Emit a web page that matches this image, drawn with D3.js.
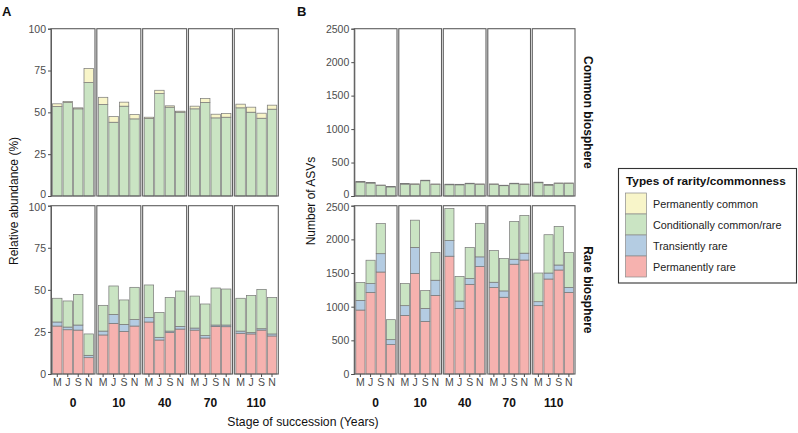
<!DOCTYPE html>
<html><head><meta charset="utf-8">
<script src="https://cdn.jsdelivr.net/npm/d3@7"></script>
<style>
body{margin:0;background:#fff}
text{font-family:"Liberation Sans",Arial,Helvetica,sans-serif}
</style>
</head><body>
<svg id="c" width="798" height="433"></svg>
<script>
const stages = ["0","10","40","70","110"];
const months = ["M","J","S","N"];
const types = ["Permanently common","Conditionally common/rare","Transiently rare","Permanently rare"];
const typeColors = ["#F8F5C9","#CAE4C3","#B4CCE2","#F6B2AF"];
const relTicks = [0,25,50,75,100];
const asvTicks = [0,500,1000,1500,2000,2500];

// All series in stage-major order: 0:M,J,S,N | 10:M,J,S,N | 40 | 70 | 110
// A: relative abundance (%) — common biosphere
const relCommon_permCommon = [1.6,0.7,0.6,8.5, 4.3,3.4,2.4,2.6, 0.8,2.0,0.8,0.6, 1.6,2.4,2.2,2.2, 2.2,3.0,3.0,2.4];
const relCommon_condCommon = [53.5,55.8,52.1,67.8, 54.7,44.1,53.7,46.1, 46.3,61.2,53.1,50.1, 52.1,55.9,46.7,47.1, 52.7,50.1,46.5,51.9];
// A: relative abundance (%) — rare biosphere
const relRare_condCommon = [14.1,15.5,18.2,12.7, 15.3,16.9,14.5,19.2, 19.4,14.8,20.0,21.0, 19.0,18.8,22.0,21.4, 19.5,22.1,23.4,21.7];
const relRare_transient  = [2.4,1.6,3.0,1.4, 2.3,5.3,4.2,3.8, 2.6,1.6,0.9,1.6, 1.2,1.4,0.8,1.0, 1.3,0.8,0.8,1.2];
const relRare_permRare   = [28.5,26.3,26.1,9.7, 23.2,30.1,25.3,28.5, 30.9,20.2,24.6,26.7, 26.1,21.4,28.3,28.1, 24.2,23.8,26.1,22.6];
// B: number of ASVs — common biosphere
const asvCommon_permCommon = [8,7,6,8, 9,10,8,9, 9,8,8,9, 8,7,8,8, 9,8,8,8];
const asvCommon_condCommon = [208,193,158,136, 178,172,228,171, 168,167,183,172, 173,154,183,172, 198,162,187,187];
// B: number of ASVs — rare biosphere
const asvRare_condCommon = [267,347,448,297, 329,404,265,414, 476,366,463,498, 471,481,562,561, 426,569,574,520];
const asvRare_transient  = [144,130,272,74, 144,386,193,225, 232,109,86,143, 78,94,74,102, 59,89,74,74];
const asvRare_permRare   = [950,1213,1515,436, 871,1495,782,1168, 1750,975,1332,1597, 1285,1140,1631,1693, 1015,1411,1545,1213];

function rows(pc, cc, tr, pr){
  return pc.map((_, i) => ({
    stage: stages[Math.floor(i/4)], month: months[i%4],
    [types[0]]: pc[i], [types[1]]: cc[i], [types[2]]: tr[i], [types[3]]: pr[i]
  }));
}
const zeros = stages.flatMap(() => months.map(() => 0));
const relCommonData = rows(relCommon_permCommon, relCommon_condCommon, zeros, zeros);
const relRareData = rows(zeros, relRare_condCommon, relRare_transient, relRare_permRare);
const asvCommonData = rows(asvCommon_permCommon, asvCommon_condCommon, zeros, zeros);
const asvRareData = rows(zeros, asvRare_condCommon, asvRare_transient, asvRare_permRare);

const color = d3.scaleOrdinal().domain(types).range(typeColors);
const stackKeys = [types[3], types[2], types[1], types[0]];
const svg = d3.select("#c");

const rowY = [{y0:28.7, y1:196}, {y0:205.7, y1:374}];
const FONT = '"Liberation Sans",Arial,sans-serif';
const TICK_COL = "#4d4d4d";

function panel(cfg){
  const fx = d3.scaleBand().domain(stages).range([cfg.x0, cfg.x1]).paddingInner(0.04).paddingOuter(0);
  const mx = d3.scaleBand().domain(months).range([0, fx.bandwidth()]).paddingInner(0.1).paddingOuter(0.15);
  cfg.data.forEach((data, r) => {
    const ry = rowY[r];
    const y = d3.scaleLinear().domain([0, cfg.max]).range([ry.y1, ry.y0]);
    const stacked = d3.stack().keys(stackKeys)(data);
    stages.forEach(s => {
      const g = svg.append("g").attr("transform", `translate(${fx(s)},0)`);
      stacked.forEach(layer => {
        g.selectAll(null)
          .data(layer.filter(d => d.data.stage === s && d[1] - d[0] > 0))
          .join("rect")
          .attr("x", d => mx(d.data.month))
          .attr("width", mx.bandwidth())
          .attr("y", d => y(d[1]))
          .attr("height", d => y(d[0]) - y(d[1]))
          .attr("fill", color(layer.key))
          .attr("stroke", "#777")
          .attr("stroke-width", 0.7);
      });
      g.append("rect")
        .attr("x", 0).attr("y", ry.y0)
        .attr("width", fx.bandwidth()).attr("height", ry.y1 - ry.y0)
        .attr("fill", "none").attr("stroke", "#5e5e5e").attr("stroke-width", 1.1);
      if (r === 1) {
        const ax = g.append("g").attr("transform", `translate(0,${ry.y1})`)
          .call(d3.axisBottom(mx).tickSize(3).tickPadding(2));
        ax.select(".domain").remove();
        ax.selectAll("line").attr("stroke", TICK_COL);
        ax.selectAll("text").attr("font-size", 10.5).attr("fill", TICK_COL).attr("font-family", FONT);
        g.append("text").attr("x", fx.bandwidth()/2).attr("y", 406.5)
          .attr("text-anchor", "middle").attr("font-size", 12).attr("font-weight", "bold")
          .attr("fill", "#111").text(s);
      }
    });
    const ay = svg.append("g").attr("transform", `translate(${cfg.x0},0)`)
      .call(d3.axisLeft(y).tickValues(cfg.ticks).tickFormat(d3.format("d")).tickSize(3).tickPadding(2));
    ay.select(".domain").attr("stroke", "#5e5e5e");
    ay.selectAll("line").attr("stroke", TICK_COL);
    ay.selectAll("text").attr("font-size", 10.5).attr("fill", TICK_COL).attr("font-family", FONT);
    // keep the touching end labels of the two stacked rows apart
    ay.selectAll(".tick text").filter(d => r === 0 && d === 0).attr("y", -1.6);
    ay.selectAll(".tick text").filter(d => r === 1 && d === cfg.max).attr("y", 1.6);
  });
  svg.append("text")
    .attr("transform", `translate(${cfg.titleX},201) rotate(-90)`)
    .attr("text-anchor", "middle").attr("font-size", 12).attr("fill", "#111")
    .text(cfg.title);
  svg.append("text").attr("x", cfg.labelX).attr("y", 16)
    .attr("font-size", 13).attr("font-weight", "bold").attr("fill", "#111").text(cfg.label);
}

panel({x0:51, x1:278.3, max:100, ticks:relTicks, data:[relCommonData, relRareData],
       title:"Relative abundance (%)", titleX:18, label:"A", labelX:2});
panel({x0:354.3, x1:575, max:2500, ticks:asvTicks, data:[asvCommonData, asvRareData],
       title:"Number of ASVs", titleX:315, label:"B", labelX:297});

// x-axis title
svg.append("text").attr("x", 303).attr("y", 426).attr("text-anchor", "middle")
  .attr("font-size", 12.2).attr("fill", "#111").text("Stage of succession (Years)");

// strip labels
[["Common biosphere", (rowY[0].y0+rowY[0].y1)/2], ["Rare biosphere", (rowY[1].y0+rowY[1].y1)/2]]
  .forEach(([t, cy]) => {
    svg.append("text").attr("transform", `translate(584,${cy}) rotate(90)`)
      .attr("text-anchor", "middle").attr("font-size", 12).attr("font-weight", "bold")
      .attr("fill", "#111").text(t);
  });

// legend
const lg = svg.append("g");
lg.append("rect").attr("x", 618.5).attr("y", 168.5).attr("width", 178).attr("height", 114.5)
  .attr("fill", "#fff").attr("stroke", "#333").attr("stroke-width", 1.1);
lg.append("text").attr("x", 626).attr("y", 185).attr("font-size", 11.8).attr("font-weight", "bold")
  .attr("fill", "#111").text("Types of rarity/commonness");
types.forEach((t, i) => {
  const yy = 193 + i * 21;
  lg.append("rect").attr("x", 625.5).attr("y", yy).attr("width", 21).attr("height", 21)
    .attr("fill", color(t)).attr("stroke", "#8a8a8a").attr("stroke-width", 0.7);
  lg.append("text").attr("x", 653).attr("y", yy + 14.5).attr("font-size", 10.8)
    .attr("fill", "#222").text(t);
});
</script>
</body></html>
